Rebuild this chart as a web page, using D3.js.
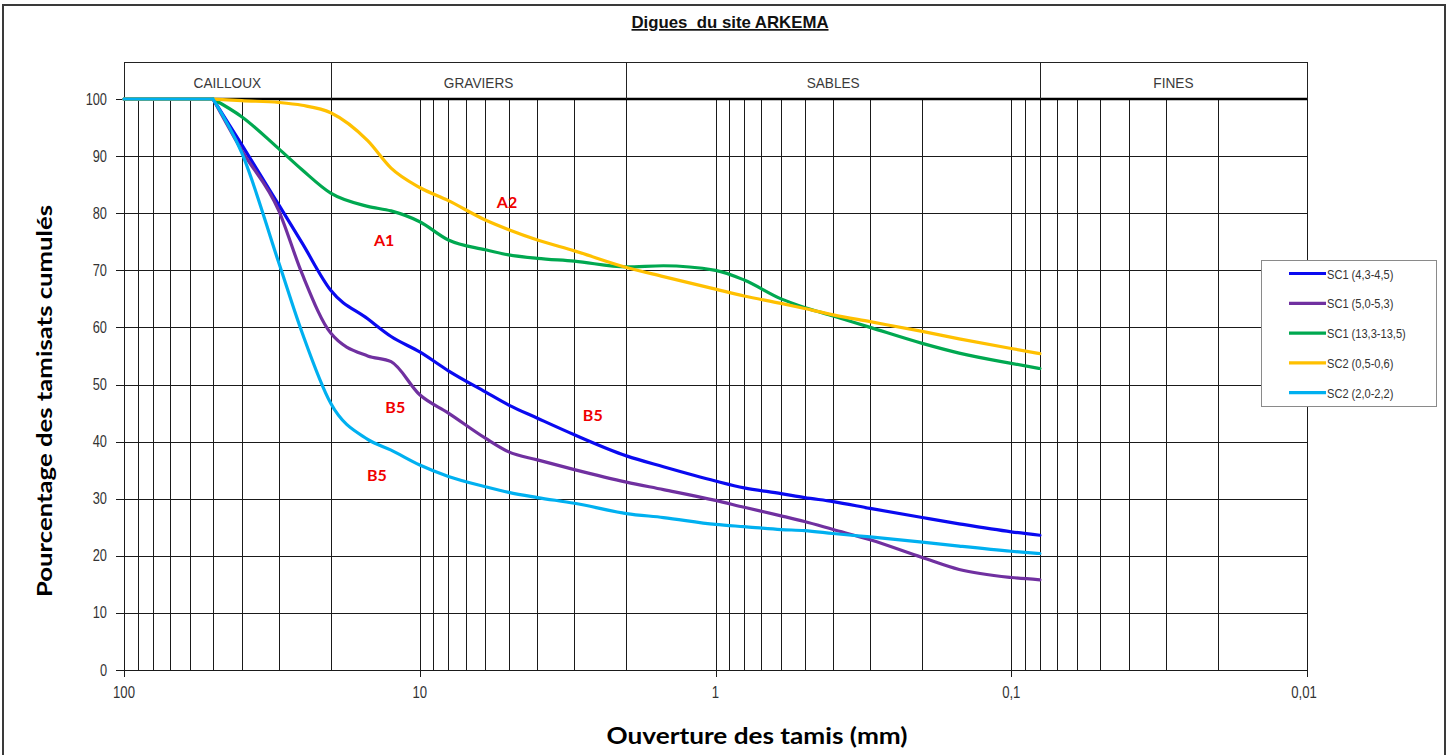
<!DOCTYPE html>
<html>
<head>
<meta charset="utf-8">
<script src="https://cdn.jsdelivr.net/npm/d3@7"></script>
<style>
  html, body { margin: 0; padding: 0; background: #fff; }
  svg { display: block; }
  .narrow { font-family: "Liberation Sans Narrow", "Arial Narrow", "Liberation Sans", Arial, sans-serif; }
</style>
</head>
<body>
<svg id="chart" width="1450" height="755"></svg>
<script>
// Sieve openings (mm), ordered from coarse to fine
const sieves = [100, 50, 40, 30, 25, 20, 15, 12.5, 10, 8, 6, 5, 4, 3, 2, 1.5, 1, 0.8, 0.6, 0.5, 0.4, 0.3, 0.2, 0.15, 0.1, 0.08];

// Cumulative passing (%) for each sample
const sc1_43_45   = [100, 100, 92.0, 81.5, 74.8, 66.5, 61.5, 58.4, 55.7, 52.4, 48.7, 46.4, 44.1, 41.2, 37.5, 35.6, 33.1, 31.9, 30.9, 30.2, 29.5, 28.3, 26.7, 25.6, 24.2, 23.6];
const sc1_50_53   = [100, 100, 91.0, 80.5, 69.4, 59.0, 55.0, 54.0, 48.2, 45.0, 40.6, 38.2, 36.8, 35.1, 32.9, 31.6, 29.7, 28.5, 27.0, 26.0, 24.6, 22.8, 19.7, 17.6, 16.2, 15.8];
const sc1_133_135 = [100, 100, 96.9, 91.3, 87.6, 83.5, 81.2, 80.4, 78.5, 75.3, 73.6, 72.7, 72.1, 71.6, 70.6, 70.8, 70.0, 68.3, 65.0, 63.5, 62.0, 60.0, 57.2, 55.5, 53.7, 52.8];
const sc2_05_06   = [100, 100, 99.7, 99.4, 98.9, 97.6, 92.7, 87.9, 84.5, 82.2, 78.8, 77.1, 75.3, 73.4, 70.5, 68.9, 66.7, 65.5, 64.2, 63.3, 62.2, 61.0, 59.3, 58.0, 56.3, 55.4];
const sc2_20_22   = [100, 100, 90.6, 71.4, 59.1, 46.7, 40.4, 38.5, 35.9, 33.9, 32.1, 31.1, 30.2, 29.2, 27.4, 26.7, 25.5, 25.1, 24.6, 24.4, 23.9, 23.3, 22.4, 21.7, 20.8, 20.4];

const seriesNames  = ["SC1 (4,3-4,5)", "SC1 (5,0-5,3)", "SC1 (13,3-13,5)", "SC2 (0,5-0,6)", "SC2 (2,0-2,2)"];
const seriesValues = [sc1_43_45, sc1_50_53, sc1_133_135, sc2_05_06, sc2_20_22];
const seriesColors = ["#0A0AF0", "#7030A0", "#00A850", "#FFC000", "#00B0F0"];

// Soil classes along the top band (bounds in mm)
const classNames  = ["CAILLOUX", "GRAVIERS", "SABLES", "FINES"];
const classBounds = [100, 20, 2, 0.08, 0.01];

// Axis ticks
const xMajorTicks = [100, 10, 1, 0.1, 0.01];
const xTickLabels = ["100", "10", "1", "0,1", "0,01"];
const yTicks = [0, 10, 20, 30, 40, 50, 60, 70, 80, 90, 100];

// Class labels placed next to the curves
const noteTexts = ["A1", "A2", "B5", "B5", "B5"];
const noteSizes = [13.2, 5.07, 12.1, 2.6, 13.95];
const notePcts  = [74.3, 80.9, 45.0, 43.6, 33.1];

// Squeeze a text horizontally, emulating a narrow typeface
function condense(sel, factor) {
  sel.each(function () {
    const w = this.getComputedTextLength();
    d3.select(this).attr("textLength", w * factor).attr("lengthAdjust", "spacingAndGlyphs");
  });
}

const svg = d3.select("#chart");

// Outer frame
svg.append("rect")
  .attr("x", 3).attr("y", 5).attr("width", 1442).attr("height", 760)
  .attr("fill", "#fff").attr("stroke", "#3a3a3a").attr("stroke-width", 2);

const plotLeft = 124, plotRight = 1307, plotTop = 99, plotBottom = 670;
const x = d3.scaleLog().domain([100, 0.01]).range([plotLeft, plotRight]);
const y = d3.scaleLinear().domain([0, 100]).range([plotBottom, plotTop]);

// Title
svg.append("text")
  .attr("class", "narrow")
  .attr("x", 730).attr("y", 28)
  .attr("text-anchor", "middle")
  .attr("font-size", 17).attr("font-weight", "bold")
  .attr("text-decoration", "underline")
  .attr("fill", "#111")
  .attr("xml:space", "preserve")
  .attr("textLength", 197).attr("lengthAdjust", "spacingAndGlyphs")
  .text("Digues  du site ARKEMA");

// Vertical log grid
const grid = svg.append("g").attr("stroke", "#1a1a1a").attr("stroke-width", 1).attr("shape-rendering", "crispEdges");
x.ticks().forEach(t => {
  grid.append("line")
    .attr("x1", Math.round(x(t)) + 0.5).attr("x2", Math.round(x(t)) + 0.5)
    .attr("y1", plotTop).attr("y2", plotBottom);
});

// Horizontal grid (extends a little left of the axis as tick marks)
yTicks.forEach(t => {
  grid.append("line")
    .attr("x1", plotLeft - 8).attr("x2", plotRight)
    .attr("y1", Math.round(y(t)) + 0.5).attr("y2", Math.round(y(t)) + 0.5);
});

// Major x tick marks
xMajorTicks.forEach(t => {
  grid.append("line")
    .attr("x1", Math.round(x(t)) + 0.5).attr("x2", Math.round(x(t)) + 0.5)
    .attr("y1", plotBottom).attr("y2", plotBottom + 7);
});

// Top edge of the plot, heavier
svg.append("line")
  .attr("x1", plotLeft).attr("x2", plotRight)
  .attr("y1", plotTop).attr("y2", plotTop)
  .attr("stroke", "#000").attr("stroke-width", 2.5);

// Class band above the plot
const band = svg.append("g");
band.append("line")
  .attr("x1", plotLeft).attr("x2", plotRight).attr("y1", 62.5).attr("y2", 62.5)
  .attr("stroke", "#222").attr("stroke-width", 1);
classBounds.forEach(b => {
  band.append("line")
    .attr("x1", Math.round(x(b)) + 0.5).attr("x2", Math.round(x(b)) + 0.5)
    .attr("y1", 62).attr("y2", plotTop)
    .attr("stroke", "#222").attr("stroke-width", 1);
});
band.selectAll("text").data(classNames).join("text")
  .attr("class", "narrow")
  .attr("x", (d, i) => (x(classBounds[i]) + x(classBounds[i + 1])) / 2)
  .attr("y", 87.5)
  .attr("text-anchor", "middle")
  .attr("font-size", 15.5)
  .attr("fill", "#3a3a3a")
  .text(d => d)
  .call(condense, 0.88);

// Y tick labels
svg.append("g").selectAll("text").data(yTicks).join("text")
  .attr("class", "narrow")
  .attr("x", 107).attr("y", d => y(d) + 5.5)
  .attr("text-anchor", "end")
  .attr("font-size", 16).attr("fill", "#333")
  .text(d => d)
  .call(condense, 0.8);

// X tick labels
svg.append("g").selectAll("text").data(xMajorTicks).join("text")
  .attr("class", "narrow")
  .attr("x", (d, i) => x(d) + (i === xMajorTicks.length - 1 ? -3 : 0))
  .attr("y", 698)
  .attr("text-anchor", "middle")
  .attr("font-size", 16).attr("fill", "#333")
  .text((d, i) => xTickLabels[i])
  .call(condense, 0.82);

// Axis titles
svg.append("text")
  .attr("x", 757).attr("y", 744)
  .attr("text-anchor", "middle")
  .attr("font-family", "Lato, 'Open Sans', sans-serif")
  .attr("font-size", 23).attr("font-weight", "bold")
  .attr("textLength", 301).attr("lengthAdjust", "spacingAndGlyphs")
  .attr("fill", "#000")
  .text("Ouverture des tamis (mm)");

svg.append("text")
  .attr("transform", "translate(52,401) rotate(-90)")
  .attr("text-anchor", "middle")
  .attr("font-family", "Lato, 'Open Sans', sans-serif")
  .attr("font-size", 21).attr("font-weight", "bold")
  .attr("textLength", 392).attr("lengthAdjust", "spacingAndGlyphs")
  .attr("fill", "#000")
  .text("Pourcentage des tamisats cumulés");

// Grading curves: straight run on the 100 % plateau, smooth curve below it
const smooth = d3.line().x(d => x(d[0])).y(d => y(d[1])).curve(d3.curveMonotoneX);
const straight = d3.line().x(d => x(d[0])).y(d => y(d[1]));

const curves = svg.append("g").attr("fill", "none").attr("stroke-width", 3.2)
  .attr("stroke-linejoin", "round").attr("stroke-linecap", "round");
seriesValues.forEach((vals, i) => {
  const pts = sieves.map((s, j) => [s, vals[j]]);
  curves.append("path")
    .attr("stroke", seriesColors[i])
    .attr("d", straight(pts.slice(0, 2)) + smooth(pts.slice(1)));
});

// Class notes
svg.append("g").selectAll("text").data(noteTexts).join("text")
  .attr("x", (d, i) => x(noteSizes[i]))
  .attr("y", (d, i) => y(notePcts[i]))
  .attr("text-anchor", "middle")
  .attr("font-family", "Lato, 'Open Sans', sans-serif")
  .attr("font-size", 16).attr("font-weight", "bold")
  .attr("fill", "#F00000")
  .text(d => d);

// Legend
const legend = svg.append("g");
legend.append("rect")
  .attr("x", 1261.5).attr("y", 260.5).attr("width", 175).attr("height", 146)
  .attr("fill", "#fff").attr("stroke", "#8a8a8a").attr("stroke-width", 1);
seriesNames.forEach((name, i) => {
  const ly = 273.5 + i * 29.8;
  legend.append("line")
    .attr("x1", 1289).attr("x2", 1326).attr("y1", ly).attr("y2", ly)
    .attr("stroke", seriesColors[i]).attr("stroke-width", 3.2);
  legend.append("text")
    .attr("class", "narrow")
    .attr("x", 1327).attr("y", ly + 5)
    .attr("font-size", 13.5).attr("fill", "#333")
    .text(name)
    .call(condense, 0.82);
});
</script>
</body>
</html>
